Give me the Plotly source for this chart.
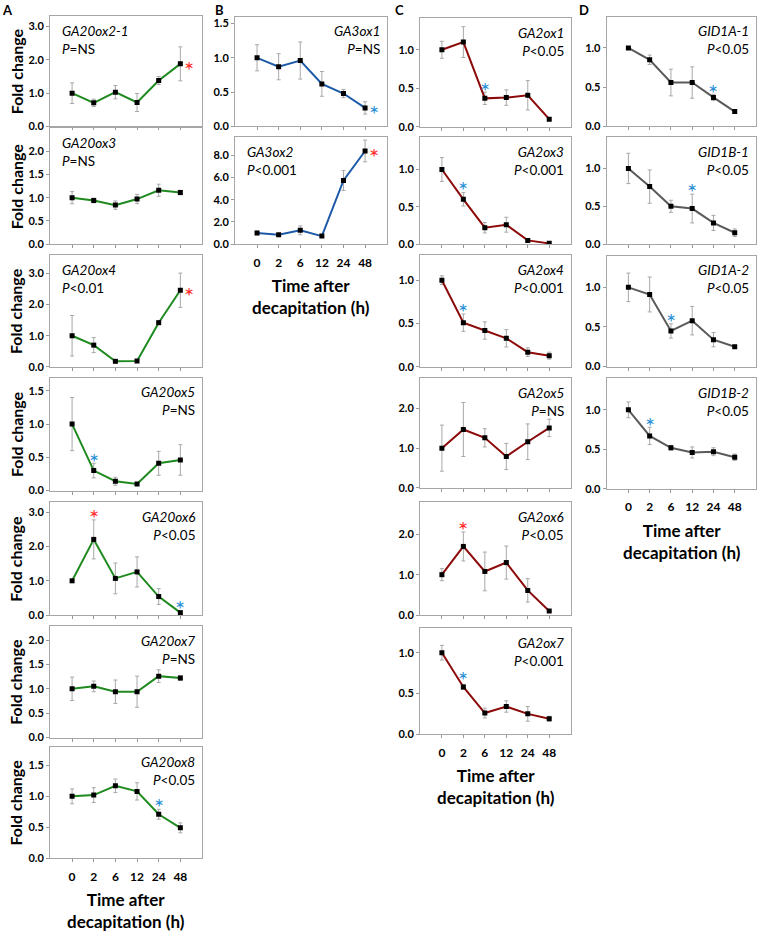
import plotly.graph_objects as go

# time points (h) after decapitation
times = ['0', '2', '6', '12', '24', '48']

# fold change means and error bars
ga20ox2_1 = [1.0, 0.71, 1.03, 0.72, 1.38, 1.88]
ga20ox2_1_se = [0.31, 0.11, 0.20, 0.27, 0.12, 0.51]
ga20ox3 = [1.0, 0.94, 0.84, 0.97, 1.16, 1.11]
ga20ox3_se = [0.13, 0.05, 0.09, 0.10, 0.13, 0.05]
ga20ox4 = [1.0, 0.70, 0.18, 0.19, 1.42, 2.46]
ga20ox4_se = [0.65, 0.24, 0.02, 0.03, 0.05, 0.55]
ga20ox5 = [1.0, 0.30, 0.14, 0.10, 0.41, 0.46]
ga20ox5_se = [0.40, 0.11, 0.06, 0.02, 0.18, 0.23]
ga20ox6 = [1.0, 2.21, 1.07, 1.26, 0.54, 0.07]
ga20ox6_se = [0.04, 0.57, 0.45, 0.44, 0.23, 0.03]
ga20ox7 = [1.0, 1.05, 0.94, 0.94, 1.26, 1.22]
ga20ox7_se = [0.24, 0.11, 0.24, 0.32, 0.13, 0.05]
ga20ox8 = [1.0, 1.02, 1.17, 1.08, 0.71, 0.49]
ga20ox8_se = [0.12, 0.12, 0.11, 0.14, 0.08, 0.08]

ga3ox1 = [1.0, 0.87, 0.96, 0.62, 0.48, 0.27]
ga3ox1_se = [0.19, 0.19, 0.27, 0.18, 0.06, 0.09]
ga3ox2 = [1.0, 0.84, 1.24, 0.72, 5.73, 8.38]
ga3ox2_se = [0.16, 0.08, 0.40, 0.08, 0.90, 0.98]

ga2ox1 = [1.0, 1.10, 0.37, 0.38, 0.41, 0.10]
ga2ox1_se = [0.11, 0.20, 0.08, 0.10, 0.19, 0.02]
ga2ox3 = [1.0, 0.60, 0.22, 0.26, 0.05, 0.01]
ga2ox3_se = [0.16, 0.09, 0.07, 0.10, 0.01, 0.01]
ga2ox4 = [1.0, 0.51, 0.42, 0.33, 0.17, 0.13]
ga2ox4_se = [0.05, 0.10, 0.10, 0.10, 0.05, 0.04]
ga2ox5 = [1.0, 1.47, 1.26, 0.79, 1.16, 1.51]
ga2ox5_se = [0.58, 0.68, 0.23, 0.33, 0.45, 0.22]
ga2ox6 = [1.0, 1.70, 1.08, 1.30, 0.61, 0.10]
ga2ox6_se = [0.15, 0.36, 0.48, 0.41, 0.29, 0.03]
ga2ox7 = [1.0, 0.58, 0.26, 0.34, 0.25, 0.19]
ga2ox7_se = [0.09, 0.03, 0.06, 0.07, 0.09, 0.03]

gid1a_1 = [1.0, 0.85, 0.56, 0.56, 0.37, 0.19]
gid1a_1_se = [0.01, 0.06, 0.17, 0.20, 0.04, 0.02]
gid1b_1 = [1.0, 0.76, 0.50, 0.47, 0.28, 0.15]
gid1b_1_se = [0.20, 0.22, 0.08, 0.19, 0.10, 0.05]
gid1a_2 = [1.0, 0.91, 0.45, 0.58, 0.34, 0.25]
gid1a_2_se = [0.18, 0.22, 0.09, 0.18, 0.09, 0.02]
gid1b_2 = [1.0, 0.67, 0.52, 0.46, 0.47, 0.40]
gid1b_2_se = [0.10, 0.11, 0.03, 0.07, 0.05, 0.04]

# significance asterisks: (gene, time index, height)
stars_up = [('GA20ox2-1', 5, 1.90), ('GA20ox4', 5, 2.50), ('GA20ox6', 1, 3.02),
            ('GA3ox2', 5, 8.40), ('GA2ox6', 1, 2.27)]
stars_down = [('GA20ox5', 1, 0.52), ('GA20ox6', 5, 0.38), ('GA20ox8', 4, 0.94),
              ('GA3ox1', 5, 0.27), ('GA2ox1', 2, 0.55), ('GA2ox3', 1, 0.81),
              ('GA2ox4', 1, 0.71), ('GA2ox7', 1, 0.74), ('GID1A-1', 4, 0.51),
              ('GID1B-1', 3, 0.77), ('GID1A-2', 2, 0.65), ('GID1B-2', 1, 0.88)]
# asterisks drawn beside the 48 h point instead of above it
side_stars = ['GA20ox2-1', 'GA20ox4', 'GA3ox2', 'GA3ox1']

W, H = 758, 933
GREEN, BLUE, RED, GRAY = '#1f8a1f', '#1c5aa8', '#8c0a0a', '#5a5a5a'
FONT = 'Lato'

# column x extent in px (y axis line -> right frame)
cols = {'A': (50, 202), 'B': (235, 386.7), 'C': (420, 570.7), 'D': (606.7, 756)}

# name, column, mean, se, colour, top px, zero px, ymax, tick step, ticks max, p text, label side
panels = [
    ('GA20ox2-1', 'A', ga20ox2_1, ga20ox2_1_se, GREEN, 16, 127.3, 3.32, 1.0, 3.0, '=NS', 'l'),
    ('GA20ox3', 'A', ga20ox3, ga20ox3_se, GREEN, 129.3, 245.7, 2.49, 0.5, 2.0, '=NS', 'l'),
    ('GA20ox4', 'A', ga20ox4, ga20ox4_se, GREEN, 256.7, 369.3, 3.59, 1.0, 3.0, '&lt;0.01', 'l'),
    ('GA20ox5', 'A', ga20ox5, ga20ox5_se, GREEN, 380, 493.7, 1.7, 0.5, 1.5, '=NS', 'r'),
    ('GA20ox6', 'A', ga20ox6, ga20ox6_se, GREEN, 505.7, 619, 3.29, 1.0, 3.0, '&lt;0.05', 'r'),
    ('GA20ox7', 'A', ga20ox7, ga20ox7_se, GREEN, 630, 742.3, 2.29, 0.5, 2.0, '=NS', 'r'),
    ('GA20ox8', 'A', ga20ox8, ga20ox8_se, GREEN, 751.7, 863.7, 1.8, 0.5, 1.5, '&lt;0.05', 'r'),
    ('GA3ox1', 'B', ga3ox1, ga3ox1_se, BLUE, 16.7, 127.3, 1.6, 0.5, 1.5, '=NS', 'r'),
    ('GA3ox2', 'B', ga3ox2, ga3ox2_se, BLUE, 138.3, 245.7, 9.6, 2.0, 8.0, '&lt;0.001', 'l'),
    ('GA2ox1', 'C', ga2ox1, ga2ox1_se, RED, 18.3, 127.7, 1.41, 0.5, 1.0, '&lt;0.05', 'r'),
    ('GA2ox3', 'C', ga2ox3, ga2ox3_se, RED, 138.3, 245.7, 1.43, 0.5, 1.0, '&lt;0.001', 'r'),
    ('GA2ox4', 'C', ga2ox4, ga2ox4_se, RED, 256.7, 369.3, 1.29, 0.5, 1.0, '&lt;0.001', 'r'),
    ('GA2ox5', 'C', ga2ox5, ga2ox5_se, RED, 380.7, 491, 2.76, 1.0, 2.0, '=NS', 'r'),
    ('GA2ox6', 'C', ga2ox6, ga2ox6_se, RED, 505.7, 619, 2.79, 1.0, 2.0, '&lt;0.05', 'r'),
    ('GA2ox7', 'C', ga2ox7, ga2ox7_se, RED, 632.3, 739, 1.3, 0.5, 1.0, '&lt;0.001', 'r'),
    ('GID1A-1', 'D', gid1a_1, gid1a_1_se, GRAY, 16.7, 127.3, 1.4, 0.5, 1.0, '&lt;0.05', 'r'),
    ('GID1B-1', 'D', gid1b_1, gid1b_1_se, GRAY, 138.3, 245.7, 1.41, 0.5, 1.0, '&lt;0.05', 'r'),
    ('GID1A-2', 'D', gid1a_2, gid1a_2_se, GRAY, 257.3, 369, 1.4, 0.5, 1.0, '&lt;0.05', 'r'),
    ('GID1B-2', 'D', gid1b_2, gid1b_2_se, GRAY, 380.7, 492, 1.4, 0.5, 1.0, '&lt;0.05', 'r'),
]
bottom_of_col = {'A': 'GA20ox8', 'B': 'GA3ox2', 'C': 'GA2ox7', 'D': 'GID1B-2'}


def px(x):
    return x / W


def py(y):
    return 1 - y / H


fig = go.Figure()
annotations = []
layout = {}
XR = [-1.02, 6.0]
idx = list(range(len(times)))
axis_of = {}

for i, (name, col, mean, se, color, top, zero, ymax, step, tmax, ptxt, side) in enumerate(panels, start=1):
    sfx = '' if i == 1 else str(i)
    axis_of[name] = sfx
    x0, x1 = cols[col]
    fig.add_trace(go.Scatter(
        x=idx, y=mean, mode='lines+markers', xaxis='x' + sfx, yaxis='y' + sfx,
        line=dict(color=color, width=2),
        marker=dict(symbol='square', size=5, color='black'),
        error_y=dict(type='data', array=se, color='#a8a8a8', thickness=1, width=2),
        hoverinfo='skip'))
    is_bottom = bottom_of_col[col] == name
    ticks = []
    v = 0.0
    while v <= tmax + 1e-9:
        ticks.append(round(v, 2))
        v += step
    layout['xaxis' + sfx] = dict(
        domain=[px(x0), px(x1)], anchor='y' + sfx, range=XR,
        tickvals=idx, ticktext=times, showticklabels=is_bottom,
        ticks='outside', ticklen=3, tickcolor='#9a9a9a', ticklabelstandoff=4,
        showline=True, mirror=True, linecolor='#a6a6a6', linewidth=1,
        showgrid=False, zeroline=False,
        tickfont=dict(family=FONT, size=12, color='black', weight='bold'))
    layout['yaxis' + sfx] = dict(
        domain=[py(zero), py(top)], anchor='x' + sfx, range=[0, ymax],
        tickvals=ticks, tickformat='.1f',
        ticks='outside', ticklen=3, tickcolor='#9a9a9a',
        showline=True, mirror=True, linecolor='#a6a6a6', linewidth=1,
        showgrid=False, zeroline=False,
        tickfont=dict(family=FONT, size=11, color='black', weight='bold'))

    # gene name and P value, two lines in one label
    if side == 'l':
        tx, anchor = x0 + 10, 'left'
    else:
        tx, anchor = x1 - 5, 'right'
    annotations.append(dict(xref='paper', yref='paper', x=px(tx), y=py(top + 24),
                            text='<i>%s</i><br><i>P</i>%s' % (name, ptxt), showarrow=False,
                            xanchor=anchor, align=anchor, yanchor='middle',
                            font=dict(family=FONT, size=13.5, color='black')))
    if col == 'A':
        annotations.append(dict(xref='paper', yref='paper', x=px(16), y=py((top + zero) / 2),
                                text='<b>Fold change</b>', textangle=-90, showarrow=False,
                                xanchor='center', yanchor='middle',
                                font=dict(family=FONT, size=16, color='black')))
    if is_bottom:
        annotations.append(dict(xref='x' + sfx, yref='paper', x=2.5, y=py(zero + 29),
                                text='<b>Time after<br>decapitation (h)</b>', showarrow=False,
                                xanchor='center', yanchor='top',
                                font=dict(family=FONT, size=17, color='black')))

# asterisks
for stars, c in [(stars_up, '#ff2a2a'), (stars_down, '#2a8fd8')]:
    for gene, t, h in stars:
        sfx = axis_of[gene]
        xpos = t + 0.42 if gene in side_stars else t
        annotations.append(dict(xref='x' + sfx, yref='y' + sfx, x=xpos, y=h, text='*',
                                showarrow=False, xanchor='center', yanchor='middle', yshift=-6,
                                font=dict(family=FONT, size=24, color=c)))

for letter, lx in [('A', 7), ('B', 219), ('C', 399), ('D', 584)]:
    annotations.append(dict(xref='paper', yref='paper', x=px(lx), y=py(10), text='<b>%s</b>' % letter,
                            showarrow=False, xanchor='center', yanchor='middle',
                            font=dict(family=FONT, size=13, color='black')))

fig.update_layout(width=W, height=H, margin=dict(l=0, r=0, t=0, b=0),
                  plot_bgcolor='white', paper_bgcolor='white', showlegend=False,
                  annotations=annotations, **layout)

# drop the default page margin so the figure sits at the window's corner
fig.write_html("out.html", config={'displayModeBar': False},
               post_script="document.body.style.margin='0';"
                           "document.documentElement.style.overflow='hidden';")
